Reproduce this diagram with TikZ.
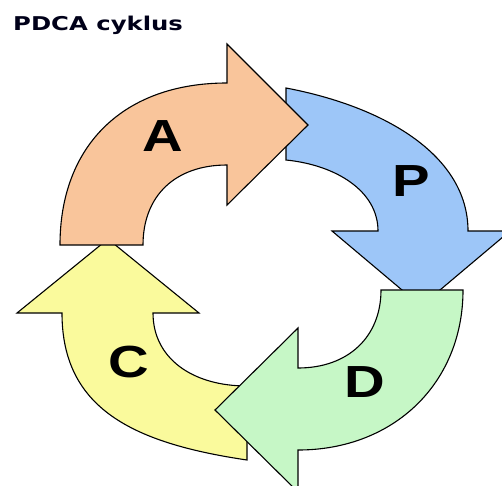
\documentclass[tikz,border=0pt]{standalone}
\usepackage{fontspec}
\newfontfamily\titlefont[FakeStretch=1.28]{DejaVu Sans}
\newfontfamily\letterfont[FakeStretch=1.25]{Liberation Sans}
\definecolor{plancol}{RGB}{157,198,248}
\definecolor{docol}{RGB}{198,247,198}
\definecolor{checkcol}{RGB}{250,250,156}
\definecolor{actcol}{RGB}{249,197,155}

\begin{document}
\begin{tikzpicture}[x=1pt,y=1pt,
    pdca/.style={draw=black,line width=1.1pt},
    letter/.style={inner sep=0pt,font=\letterfont\bfseries\fontsize{45}{45}\selectfont}]
    \clip(0,0)rectangle(502,-485);
    \fill[white](0,0)rectangle(502,-485);

    \node[anchor=base west,inner sep=0pt,text=black!90!blue,font=\titlefont\bfseries\fontsize{19}{19}\selectfont](title)at(13,-30.5){PDCA cyklus};

    % P
    \filldraw[pdca,fill=plancol](286,-88)..controls(386,-107)and(468,-156)..(468,-231)--(510,-231)--(421,-306)--(332,-231)--(378,-231)..controls(378,-191)and(336,-165)..(286,-160)--cycle;
    % C
    \filldraw[pdca,fill=checkcol](247,-460)..controls(132,-443)and(62,-408)..(62,-313)--(17,-313)--(108,-239)--(199,-313)--(153,-313)..controls(153,-358)and(192,-386)..(247,-386)--cycle;
    % A
    \filldraw[pdca,fill=actcol](60,-245)..controls(60,-145)and(124,-83)..(227,-83)--(227,-44)--(308,-125)--(227,-205)--(227,-165)..controls(175,-165)and(143,-196)..(143,-245)--cycle;
    % D
    \filldraw[pdca,fill=docol](463,-290)..controls(463,-383)and(394,-450)..(298,-450)--(298,-492)--(215,-410)--(298,-328)--(298,-368)..controls(348,-368)and(381,-337)..(381,-290)--cycle;

    \node[letter](lblA)at(163,-136){A};
    \node[letter](lblP)at(411,-181){P};
    \node[letter](lblD)at(365,-382){D};
    \node[letter](lblC)at(129,-362){C};
\end{tikzpicture}
\end{document}
